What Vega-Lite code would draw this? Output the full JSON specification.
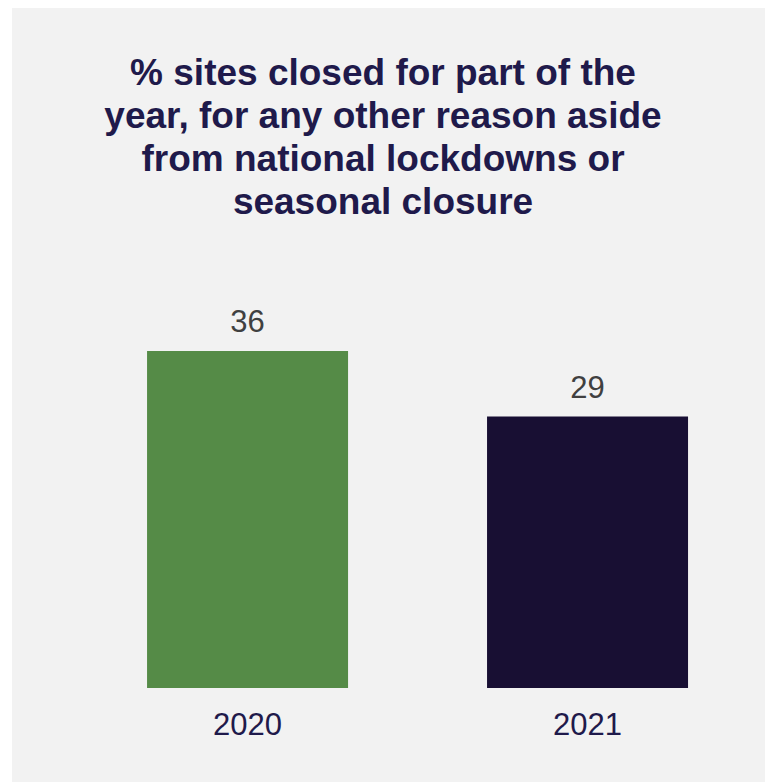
{
  "$schema": "https://vega.github.io/schema/vega-lite/v6.json",
  "autosize": {"type": "none"},
  "padding": {"left": 12, "top": 8, "right": 0, "bottom": 0},
  "width": 753,
  "height": 774,
  "background": "white",
  "config": {
    "view": {"fill": "#f2f2f2", "stroke": null},
    "font": "Liberation Sans"
  },
  "title": {
    "text": ["% sites closed for part of the", "year, for any other reason aside", "from national lockdowns or", "seasonal closure"],
    "anchor": "middle",
    "frame": "group",
    "orient": "top",
    "baseline": "alphabetic",
    "offset": -243,
    "dx": -5.5,
    "fontSize": 37,
    "fontWeight": "bold",
    "lineHeight": 43,
    "color": "#1f1a4b",
    "font": "Liberation Sans"
  },
  "data": {
    "values": [
      {"year": "2020", "pct": 36},
      {"year": "2021", "pct": 29}
    ]
  },
  "encoding": {
    "x": {
      "field": "year",
      "type": "nominal",
      "sort": null,
      "scale": {"paddingInner": 0.4088, "paddingOuter": 0.3118, "align": 0.637},
      "axis": {
        "title": null,
        "labelAngle": 0,
        "domain": false,
        "ticks": false,
        "offset": -94,
        "labelPadding": 22.5,
        "labelFontSize": 31,
        "labelColor": "#1f1a4b",
        "labelFont": "Liberation Sans"
      }
    },
    "y": {
      "field": "pct",
      "type": "quantitative",
      "scale": {"domain": [-10.04, 72.64], "nice": false, "zero": false},
      "axis": null
    }
  },
  "layer": [
    {
      "mark": {"type": "bar"},
      "encoding": {
        "y2": {"datum": 0},
        "color": {
          "field": "year",
          "type": "nominal",
          "scale": {"domain": ["2020", "2021"], "range": ["#558b47", "#180f33"]},
          "legend": null
        }
      }
    },
    {
      "mark": {"type": "text", "baseline": "alphabetic", "dy": -19, "fontSize": 31, "color": "#404040", "font": "Liberation Sans"},
      "encoding": {
        "text": {"field": "pct", "type": "quantitative"}
      }
    }
  ]
}
